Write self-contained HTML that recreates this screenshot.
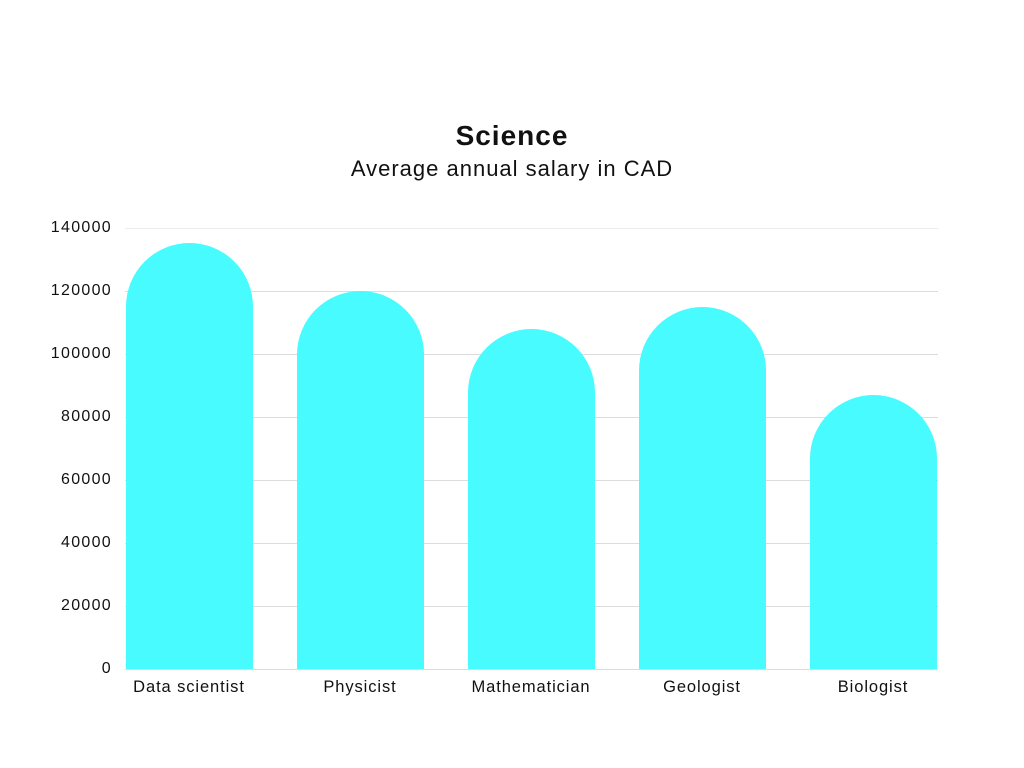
<!DOCTYPE html>
<html><head><style>
body{margin:0;width:1024px;height:768px;background:#fff;font-family:"Liberation Sans",sans-serif;position:relative;overflow:hidden;color:#111}
.t{position:absolute;left:0;width:1024px;text-align:center}
.g{position:absolute;left:125px;width:813px;height:1px;background:#dcdcdc}
.y{position:absolute;left:0;width:112px;text-align:right;font-size:16px;line-height:16px;letter-spacing:1.3px}
.b{position:absolute;width:127px;bottom:99px;background:#48FBFF;border-radius:64px 64px 0 0}
.x{position:absolute;top:678px;width:200px;text-align:center;font-size:16.5px;letter-spacing:0.9px}
</style></head><body>
<div class="t" style="top:120px;font-size:28px;font-weight:bold;letter-spacing:1px">Science</div>
<div class="t" style="top:156px;font-size:22px;letter-spacing:1px">Average annual salary in CAD</div>
<div class="g" style="top:228px;background:#ececec"></div>
<div class="g" style="top:291px"></div>
<div class="g" style="top:354px"></div>
<div class="g" style="top:417px"></div>
<div class="g" style="top:480px"></div>
<div class="g" style="top:543px"></div>
<div class="g" style="top:606px"></div>
<div class="g" style="top:669px"></div>
<div class="y" style="top:220px">140000</div>
<div class="y" style="top:283px">120000</div>
<div class="y" style="top:346px">100000</div>
<div class="y" style="top:409px">80000</div>
<div class="y" style="top:472px">60000</div>
<div class="y" style="top:535px">40000</div>
<div class="y" style="top:598px">20000</div>
<div class="y" style="top:661px">0</div>
<div class="b" style="left:126px;top:243px"></div>
<div class="b" style="left:297px;top:291px"></div>
<div class="b" style="left:468px;top:329px"></div>
<div class="b" style="left:639px;top:307px"></div>
<div class="b" style="left:810px;top:395px"></div>
<div class="x" style="left:89px">Data scientist</div>
<div class="x" style="left:260px">Physicist</div>
<div class="x" style="left:431px">Mathematician</div>
<div class="x" style="left:602px">Geologist</div>
<div class="x" style="left:773px">Biologist</div>
</body></html>
